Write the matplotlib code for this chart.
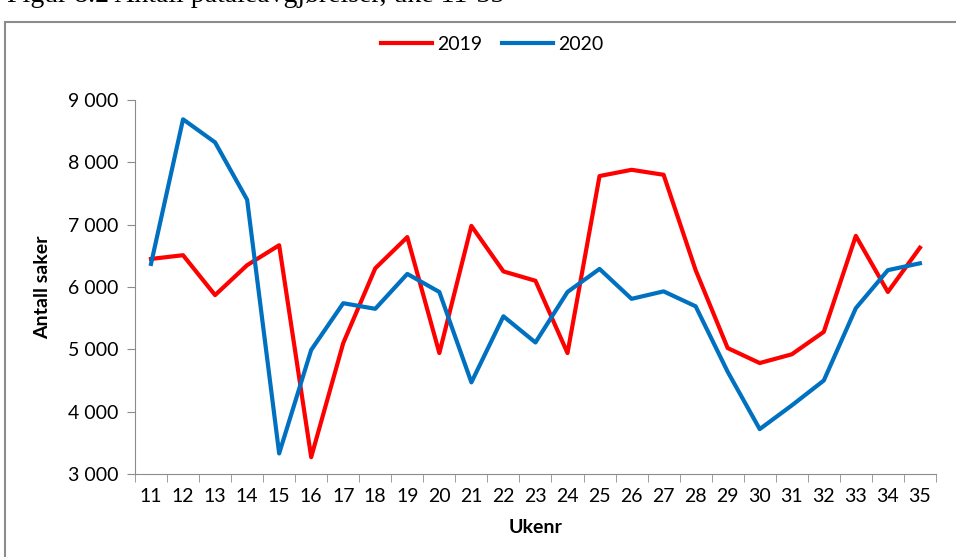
import matplotlib.pyplot as plt
from matplotlib.patches import Rectangle
from matplotlib.ticker import FuncFormatter, FixedLocator

# Week numbers
weeks = list(range(11, 36))

# Number of cases per week
cases_2019 = [6450, 6510, 5870, 6350, 6670, 3270, 5100, 6300, 6800, 4940,
              6980, 6250, 6100, 4940, 7780, 7880, 7800, 6270, 5020, 4780,
              4920, 5280, 6820, 5920, 6630]
cases_2020 = [6370, 8690, 8320, 7400, 3330, 4990, 5740, 5650, 6210, 5920,
              4470, 5530, 5110, 5920, 6290, 5810, 5930, 5690, 4640, 3720,
              4100, 4500, 5660, 6270, 6380]

plt.rcParams['font.family'] = ['Lato', 'DejaVu Sans']

fig = plt.figure(figsize=(9.56, 5.57), dpi=100)
ax = fig.add_axes([0.1412, 0.149, 0.8378, 0.6715])

# Outer frame of the chart object
fig.patches.append(Rectangle((5 / 956, -0.01), 1.0, 1 - 22 / 557 + 0.01,
                             transform=fig.transFigure, fill=False,
                             edgecolor='#8c8c8c', linewidth=1.5))

# Caption, cut at the top edge as in the source page
fig.text(7 / 956, 1 - 2 / 557, 'Figur 8.2 Antall påtaleavgjørelser, uke 11-35',
         family='Liberation Serif', fontsize=20, va='baseline', ha='left')

ax.plot(weeks, cases_2019, color='#ff0000', linewidth=3, label='2019')
ax.plot(weeks, cases_2020, color='#0070c0', linewidth=3, label='2020')

ax.set_xlim(10.5, 35.5)
ax.set_ylim(3000, 9000)
ax.set_yticks(range(3000, 9001, 1000))
ax.yaxis.set_major_formatter(FuncFormatter(lambda v, p: f'{int(v):,}'.replace(',', ' ')))
ax.set_xticks(weeks)
ax.xaxis.set_minor_locator(FixedLocator([w + 0.5 for w in range(10, 36)]))
ax.tick_params(axis='x', which='major', length=0, pad=10, labelsize=14)
ax.tick_params(axis='x', which='minor', length=6, color='#8c8c8c', direction='out')
ax.tick_params(axis='y', length=6, color='#8c8c8c', labelsize=14, pad=6)

for s in ['top', 'right']:
    ax.spines[s].set_visible(False)
for s in ['left', 'bottom']:
    ax.spines[s].set_color('#8c8c8c')

ax.set_ylabel('Antall saker', fontsize=14, fontweight='bold', labelpad=12)
ax.set_xlabel('Ukenr', fontsize=14, fontweight='bold', labelpad=10)

fig.legend(loc='center', bbox_to_anchor=(0.515, 1 - 44 / 557), ncol=2,
           frameon=False, fontsize=14, handlelength=2.6, columnspacing=1.0,
           handletextpad=0.3)

fig.savefig('out.png', dpi=100)
